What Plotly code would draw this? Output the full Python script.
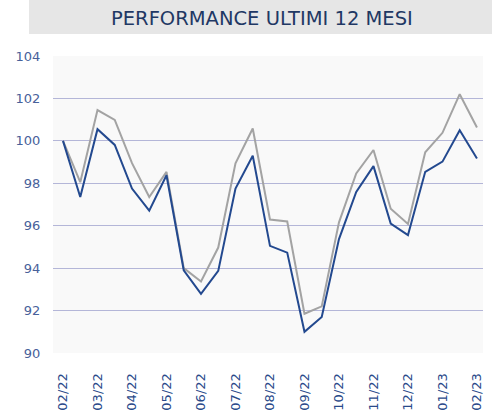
import plotly.graph_objects as go

# Half-monthly observations, Feb 2022 -> Feb 2023 (25 points)
fund = [100.0, 97.35, 100.55, 99.81, 97.75, 96.71, 98.38, 93.9, 92.79, 93.87,
        97.75, 99.3, 95.05, 94.73, 91.0, 91.7, 95.37, 97.59, 98.81, 96.1,
        95.56, 98.54, 99.02, 100.5, 99.17]
benchmark = [100.0, 98.05, 101.45, 100.99, 98.95, 97.35, 98.54, 94.0, 93.37, 94.97,
             98.94, 100.58, 96.29, 96.2, 91.85, 92.2, 96.16, 98.46, 99.57, 96.8,
             96.08, 99.46, 100.38, 102.2, 100.63]
tick_labels = ["02/22", "03/22", "04/22", "05/22", "06/22", "07/22", "08/22",
               "09/22", "10/22", "11/22", "12/22", "01/23", "02/23"]
y_ticks = [90, 92, 94, 96, 98, 100, 102, 104]
title_text = "PERFORMANCE ULTIMI 12 MESI"

x = list(range(len(fund)))
tick_pos = list(range(0, len(fund), 2))

FONT = "DejaVu Sans, sans-serif"
TICKFONT = "DejaVu Sans, sans-serif"

fig = go.Figure()
fig.add_trace(go.Scatter(x=x, y=benchmark, mode="lines",
                         line=dict(color="#a3a3a3", width=2), hoverinfo="skip"))
fig.add_trace(go.Scatter(x=x, y=fund, mode="lines",
                         line=dict(color="#23498f", width=2), hoverinfo="skip"))

L, T, W, H = 53, 56, 430, 296.7
def px_x(p):
    return (p - L) / W
def px_y(p):
    return 1 - (p - T) / H

fig.update_layout(
    width=496, height=411,
    margin=dict(l=L, r=496 - L - W, t=T, b=411 - T - H, pad=0),
    paper_bgcolor="white",
    plot_bgcolor="#f9f9f9",
    showlegend=False,
    xaxis=dict(range=[-0.58, 24.35], tickmode="array", tickvals=tick_pos,
               ticktext=tick_labels, tickangle=-90, showgrid=False,
               zeroline=False, showline=False, automargin=False,
               ticks="outside", ticklen=14, tickcolor="rgba(0,0,0,0)",
               tickfont=dict(family=TICKFONT, size=13, color="#2a4a8a")),
    yaxis=dict(range=[90, 104], tickmode="array", tickvals=y_ticks,
               showgrid=True, gridcolor="#b4b6d8", gridwidth=1.3,
               zeroline=False, showline=False, automargin=False,
               ticks="outside", ticklen=9, tickcolor="rgba(0,0,0,0)",
               tickfont=dict(family=TICKFONT, size=13, color="#48619a")),
    shapes=[dict(type="rect", xref="paper", yref="paper",
                 x0=px_x(29), x1=px_x(492), y0=px_y(34), y1=px_y(0),
                 fillcolor="#e6e6e6", line=dict(width=0), layer="below")],
    annotations=[dict(text=title_text, xref="paper", yref="paper",
                      x=px_x(262), y=px_y(19), xanchor="center", yanchor="middle",
                      showarrow=False,
                      font=dict(family=FONT, size=19.5, color="#1f3864"))],
)

fig.write_html("out.html", config={"displayModeBar": False},
               post_script="document.body.style.margin='0';document.body.style.overflow='hidden';")
